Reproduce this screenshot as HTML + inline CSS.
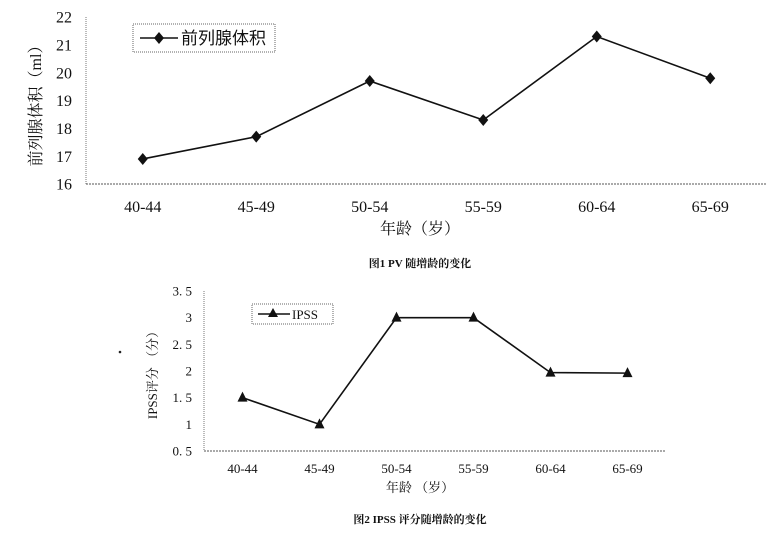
<!DOCTYPE html>
<html><head><meta charset="utf-8"><style>
html,body{margin:0;padding:0;background:#fff}
svg{display:block}
text{font-family:"Liberation Serif","Noto Serif CJK SC",serif;fill:#111}
</style></head><body>
<svg id="s" width="771" height="540" viewBox="0 0 771 540">
<g id="c1"></g>
<g id="c2"></g>
<circle cx="120" cy="352" r="1.3" fill="#222"/>
</svg>
<script>
const categories = ["40-44","45-49","50-54","55-59","60-64","65-69"];
const pvValues = [16.9, 17.7, 19.7, 18.3, 21.3, 19.8];
const pvTicks = [16,17,18,19,20,21,22];
const ipssValues = [1.5, 1.0, 3.0, 3.0, 1.97, 1.96];
const ipssTicks = [0.5,1,1.5,2,2.5,3,3.5];
const ipssTickLabels = ["0. 5","1","1. 5","2","2. 5","3","3. 5"];

const NS="http://www.w3.org/2000/svg";
function mk(p,t,a,txt){const e=document.createElementNS(NS,t);for(const k in a)e.setAttribute(k,a[k]);if(txt!==undefined)e.textContent=txt;p.appendChild(e);return e;}

function chart(g,o){
  const x=i=>o.left+(i+0.5)*(o.right-o.left)/categories.length;
  const y=v=>o.bottom-(v-o.min)/(o.max-o.min)*(o.bottom-o.top);
  let e=mk(g,'line',{x1:o.left,y1:o.top,x2:o.left,y2:o.bottom,stroke:'#777','stroke-dasharray':'1 1'});
  
  e=mk(g,'line',{x1:o.left,y1:o.bottom,x2:o.right,y2:o.bottom,stroke:'#555','stroke-dasharray':'2 1'});
  
  o.ticks.forEach((t,i)=>{
    e=mk(g,'text',{x:o.left-o.lblGap,y:y(t)+o.fs*0.35,'text-anchor':'end','font-size':o.fs},o.tickLabels?o.tickLabels[i]:String(t));
    
  });
  categories.forEach((c,i)=>{
    e=mk(g,'text',{x:x(i),y:o.bottom+o.xlblGap,'text-anchor':'middle','font-size':o.fs},c);
    
  });
  const pts=o.values.map((v,i)=>x(i)+','+y(v)).join(' ');
  e=mk(g,'polyline',{points:pts,fill:'none',stroke:'#111','stroke-width':1.6});
  
  o.values.forEach((v,i)=>{
    const cx=x(i),cy=y(v);
    if(o.marker==='d') e=mk(g,'polygon',{points:`${cx},${cy-6} ${cx+5},${cy} ${cx},${cy+6} ${cx-5},${cy}`,fill:'#111'});
    else e=mk(g,'polygon',{points:`${cx},${cy-6} ${cx+5},${cy+4} ${cx-5},${cy+4}`,fill:'#111'});
    
  });
}

const g1=document.getElementById('c1');
chart(g1,{left:86,right:767,top:17,bottom:184,min:16,max:22,ticks:pvTicks,values:pvValues,fs:16,lblGap:14,xlblGap:28,marker:'d'});
let e;
e=mk(g1,'rect',{x:133,y:24,width:142,height:28,fill:'none',stroke:'#666','stroke-dasharray':'1 1'});

e=mk(g1,'line',{x1:140,y1:38,x2:178,y2:38,stroke:'#111','stroke-width':1.6});

e=mk(g1,'polygon',{points:'159,32 164,38 159,44 154,38',fill:'#111'});

e=mk(g1,'text',{x:181,y:44,'font-size':17,style:'font-family:"Liberation Sans","Noto Sans CJK SC",sans-serif'},'前列腺体积');

e=mk(g1,'text',{x:0,y:0,'font-size':16,'text-anchor':'middle',transform:'translate(41,102) rotate(-90)'},'前列腺体积（ml）');

e=mk(g1,'text',{x:420,y:234,'font-size':16,'text-anchor':'middle'},'年龄（岁）');

e=mk(g1,'text',{x:420,y:267,'font-size':11,'font-weight':'bold','text-anchor':'middle'},'图1   PV 随增龄的变化');


const g2=document.getElementById('c2');
chart(g2,{left:204,right:666,top:291,bottom:451,min:0.5,max:3.5,ticks:ipssTicks,tickLabels:ipssTickLabels,values:ipssValues,fs:13,lblGap:12,xlblGap:22,marker:'t'});
e=mk(g2,'rect',{x:252,y:304,width:81,height:20,fill:'none',stroke:'#666','stroke-dasharray':'1 1'});

e=mk(g2,'line',{x1:258,y1:314,x2:290,y2:314,stroke:'#111','stroke-width':1.6});

e=mk(g2,'polygon',{points:'273,308 278,317 268,317',fill:'#111'});

e=mk(g2,'text',{x:292,y:319,'font-size':13},'IPSS');

e=mk(g2,'text',{x:0,y:0,'font-size':13,'text-anchor':'middle',transform:'translate(157,372) rotate(-90)'},'IPSS评分  （分）');

e=mk(g2,'text',{x:420,y:492,'font-size':13,'text-anchor':'middle'},'年龄  （岁）');

e=mk(g2,'text',{x:420,y:523,'font-size':11,'font-weight':'bold','text-anchor':'middle'},'图2   IPSS 评分随增龄的变化');

</script>
</body></html>
